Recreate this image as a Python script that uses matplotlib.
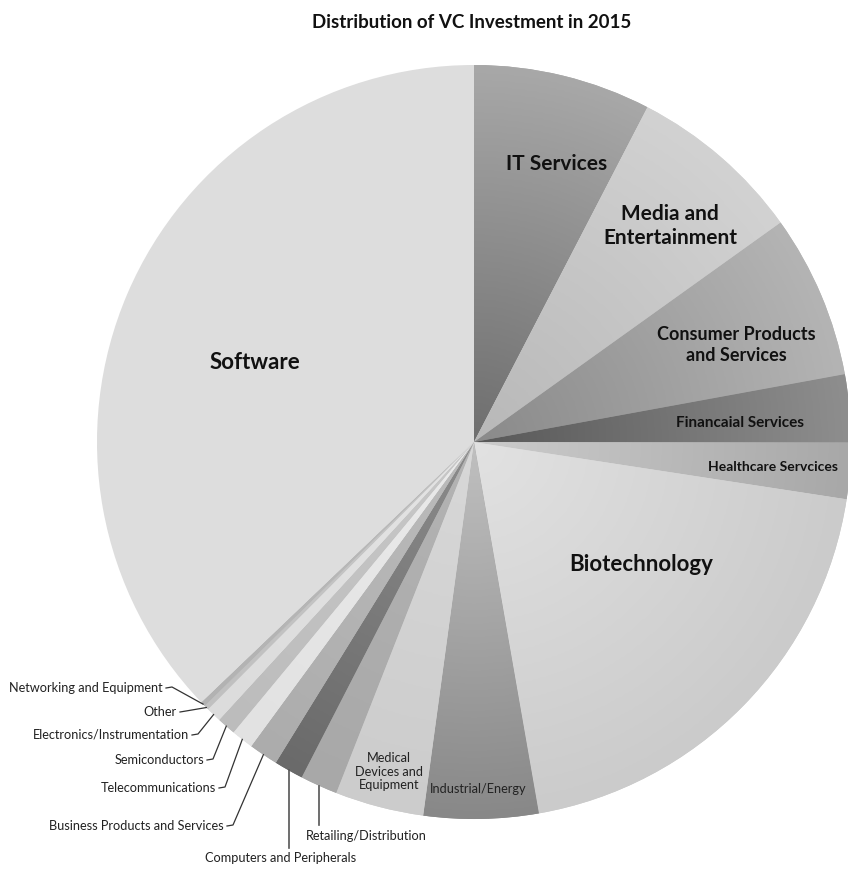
import numpy as np
import matplotlib.pyplot as plt
from matplotlib.colors import LinearSegmentedColormap

plt.rcParams['font.family'] = ['Lato', 'DejaVu Sans']

# share of 2015 VC investment by sector (percent)
sectors = ['IT Services', 'Media and\nEntertainment', 'Consumer Products\nand Services',
           'Financaial Services', 'Healthcare Servcices', 'Biotechnology',
           'Industrial/Energy', 'Medical\nDevices and\nEquipment', 'Retailing/Distribution',
           'Computers and Peripherals', 'Business Products and Services',
           'Telecommunications', 'Semiconductors', 'Electronics/Instrumentation',
           'Other', 'Networking and Equipment', 'Software']
shares = [7.6, 7.5, 7.0, 2.9, 2.4, 19.8, 4.9, 3.8, 1.6, 1.25, 1.25,
          0.95, 0.8, 0.65, 0.2, 0.2, 37.1]

# grey shading of each slice: (near centre, at rim)
shades = [('#6e6e6e', '#a8a8a8'), ('#b8b8b8', '#d2d2d2'), ('#8a8a8a', '#b4b4b4'),
          ('#585858', '#8e8e8e'), ('#cccccc', '#a8a8a8'), ('#e2e2e2', '#cbcbcb'),
          ('#c0c0c0', '#888888'), ('#d8d8d8', '#cccccc'), ('#b4b4b4', '#a8a8a8'),
          ('#8c8c8c', '#6a6a6a'), ('#bcbcbc', '#acacac'), ('#eaeaea', '#e2e2e2'),
          ('#c8c8c8', '#bcbcbc'), ('#e4e4e4', '#dcdcdc'), ('#c8c8c8', '#c0c0c0'),
          ('#bcbcbc', '#b2b2b2'), ('#dddddd', '#dddddd')]

W, H = 848, 870
cx, cy, R = 474, 443, 377

fig = plt.figure(figsize=(W / 100, H / 100), dpi=100)
ax = fig.add_axes([0, 0, 1, 1])

wedges, _ = ax.pie(shares, startangle=-90, counterclock=True, center=(cx, cy),
                   radius=R, wedgeprops=dict(linewidth=0))

yy, xx = np.mgrid[-1:1:400j, -1:1:400j]
dist = np.clip(np.hypot(xx, yy), 0, 1)
for w, (c_in, c_out) in zip(wedges, shades):
    w.set_facecolor(c_out)
    if c_in == c_out:
        continue
    cmap = LinearSegmentedColormap.from_list('s', [c_in, c_out])
    im = ax.imshow(dist, extent=(cx - R, cx + R, cy + R, cy - R), cmap=cmap,
                   vmin=0, vmax=1, interpolation='bilinear', zorder=2)
    im.set_clip_path(w)

ax.set_xlim(0, W)
ax.set_ylim(H, 0)
ax.set_aspect('equal')
ax.axis('off')

ax.text(472, 22, 'Distribution of VC Investment in 2015', ha='center', va='center',
        fontsize=13.5, fontweight='bold', color='#111111')

# labels inside the slices
inside = {
    0: (557, 164, 15), 1: (670, 226, 15), 2: (736, 345, 13), 3: (740, 423, 11),
    4: (773, 467, 10), 5: (641, 565, 16), 16: (255, 363, 16),
}
for i, (x, y, fs) in inside.items():
    ax.text(x, y, sectors[i], ha='center', va='center', fontsize=fs, fontweight='bold',
            color='#111111', linespacing=1.3, zorder=5)
ax.text(478, 789, sectors[6], ha='center', va='center', fontsize=9.2, color='#222222', zorder=5)
ax.text(389, 772, sectors[7], ha='center', va='center', fontsize=9.2, color='#222222',
        linespacing=1.15, zorder=5)


def rim_point(w):
    mid = np.radians((w.theta1 + w.theta2) / 2)
    return cx + R * np.cos(mid), cy + R * np.sin(mid)


# labels outside with leader lines (right end of text)
outside = {15: (163, 688), 14: (177, 712), 13: (189, 735), 12: (204, 760),
           11: (216, 788), 10: (224, 826)}
for i, (x, y) in outside.items():
    ax.text(x, y, sectors[i], ha='right', va='center', fontsize=9.2, color='#222222')
    ex, ey = rim_point(wedges[i])
    ax.plot([x + 3, x + 9, ex], [y + 1, y, ey], color='#333333', lw=0.9, zorder=6)

# vertical leaders below the pie
ex, ey = rim_point(wedges[9])
ax.plot([ex, ex], [ey, 849], color='#555555', lw=1.2, zorder=6)
ax.text(281, 858, sectors[9], ha='center', va='center', fontsize=9.2, color='#222222')
ex, ey = rim_point(wedges[8])
ax.plot([ex, ex], [ey, 826], color='#555555', lw=1.2, zorder=6)
ax.text(366, 836, sectors[8], ha='center', va='center', fontsize=9.2, color='#222222')

fig.savefig('out.png', dpi=100)
